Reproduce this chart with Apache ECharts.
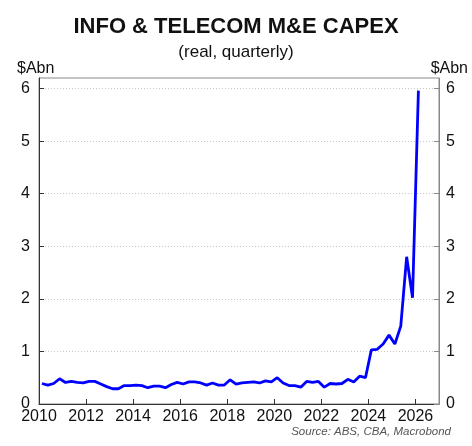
<!DOCTYPE html>
<html>
<head>
<meta charset="utf-8">
<script src="https://cdn.jsdelivr.net/npm/echarts@6/dist/echarts.min.js"></script>
<style>
html,body{margin:0;padding:0;background:#fff;}
#c{width:472px;height:446px;}
</style>
</head>
<body>
<div id="c"></div>
<script>
// Quarterly periods (2010Q1 .. 2026Q1)
var quarters = [
 '2010Q1','2010Q2','2010Q3','2010Q4','2011Q1','2011Q2','2011Q3','2011Q4',
 '2012Q1','2012Q2','2012Q3','2012Q4','2013Q1','2013Q2','2013Q3','2013Q4',
 '2014Q1','2014Q2','2014Q3','2014Q4','2015Q1','2015Q2','2015Q3','2015Q4',
 '2016Q1','2016Q2','2016Q3','2016Q4','2017Q1','2017Q2','2017Q3','2017Q4',
 '2018Q1','2018Q2','2018Q3','2018Q4','2019Q1','2019Q2','2019Q3','2019Q4',
 '2020Q1','2020Q2','2020Q3','2020Q4','2021Q1','2021Q2','2021Q3','2021Q4',
 '2022Q1','2022Q2','2022Q3','2022Q4','2023Q1','2023Q2','2023Q3','2023Q4',
 '2024Q1','2024Q2','2024Q3','2024Q4','2025Q1','2025Q2','2025Q3','2025Q4',
 '2026Q1'
];
// Info & telecom M&E capex, real, $A bn
var capex = [
 0.39,0.36,0.39,0.48,0.41,0.43,0.41,0.40,
 0.43,0.43,0.38,0.33,0.29,0.29,0.35,0.35,
 0.36,0.35,0.31,0.34,0.34,0.31,0.37,0.41,
 0.38,0.42,0.42,0.40,0.36,0.40,0.36,0.36,
 0.46,0.38,0.40,0.41,0.42,0.40,0.44,0.42,
 0.50,0.40,0.35,0.35,0.32,0.43,0.41,0.43,
 0.32,0.39,0.38,0.39,0.47,0.42,0.53,0.50,
 1.03,1.04,1.14,1.31,1.14,1.48,2.80,2.02,
 5.96
];
var yearTicks = [2010,2012,2014,2016,2018,2020,2022,2024,2026];
var yTicks = [0,1,2,3,4,5,6];

var seriesData = quarters.map(function(q, i){
  var yr = parseInt(q.slice(0,4),10);
  var qn = parseInt(q.slice(5),10);
  return [yr + (qn - 1) / 4 + 0.125, capex[i]];
});

var FONT = 'Liberation Sans, Arial, sans-serif';
var chart = echarts.init(document.getElementById('c'), null, {renderer:'canvas'});

function yAxisCfg(pos){
  return {
    type:'value', position:pos, min:0, max:6.2, interval:1,
    axisLine:{show:true, lineStyle:{color: pos==='left' ? '#333' : '#888', width:1}},
    axisTick:{show:true, inside:true, length:5, customValues: yTicks,
      lineStyle:{color: pos==='left' ? '#333' : '#888'}},
    axisLabel:{show:true, color:'#111', fontSize:16, fontFamily:FONT, margin:pos==='left'?9:7,
      customValues: yTicks},
    splitLine:{show: pos==='left', lineStyle:{color:'#c8c8c8', type:[1,2], width:1}}
  };
}

chart.setOption({
  animation:false,
  backgroundColor:'#fff',
  title:[
    {text:'INFO & TELECOM M&E CAPEX', left:'center', top:11,
     textStyle:{fontSize:22, fontWeight:'bold', color:'#111', fontFamily:FONT}},
    {text:'(real, quarterly)', left:'center', top:39,
     textStyle:{fontSize:17, fontWeight:'normal', color:'#111', fontFamily:FONT}}
  ],
  graphic:[
    {type:'text', left:17, top:61, style:{text:'$Abn', font:'16px '+FONT, fill:'#111'}},
    {type:'text', right:4, top:61, style:{text:'$Abn', font:'16px '+FONT, fill:'#111'}},
    {type:'text', right:21, top:426, style:{text:'Source: ABS, CBA, Macrobond', font:'italic 11.5px '+FONT, fill:'#555'}}
  ],
  grid:{left:39, right:33, top:78, bottom:42, show:true, borderColor:'#888', borderWidth:1},
  xAxis:{
    type:'value', min:2010, max:2027,
    axisLine:{show:true, onZero:false, lineStyle:{color:'#333'}},
    axisTick:{show:true, inside:true, length:5, customValues:yearTicks, lineStyle:{color:'#333'}},
    axisLabel:{show:true, customValues:yearTicks, color:'#111', fontSize:16, fontFamily:FONT, margin:5,
      formatter:function(v){return String(v);}},
    splitLine:{show:false}
  },
  yAxis:[yAxisCfg('left'), yAxisCfg('right')],
  series:[{
    type:'line', data:seriesData, showSymbol:false, symbol:'none',
    lineStyle:{color:'#0000ff', width:2.8}, itemStyle:{color:'#0000ff'}, z:5
  }]
});
</script>
</body>
</html>
